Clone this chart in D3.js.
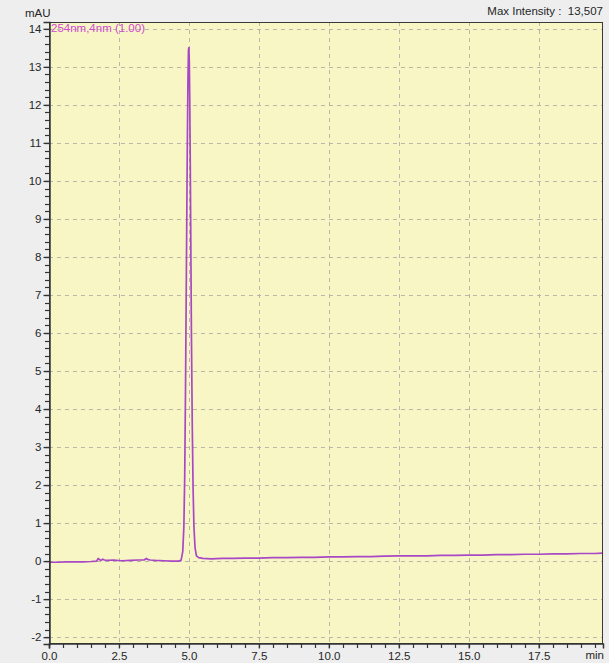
<!DOCTYPE html>
<html>
<head>
<meta charset="utf-8">
<script src="https://cdn.jsdelivr.net/npm/d3@7"></script>
<style>
  html, body { margin: 0; padding: 0; background: #eeeeee; }
  svg { display: block; font-family: "Liberation Sans", Arial, sans-serif; }
</style>
</head>
<body>
<svg id="chart" width="609" height="663"></svg>
<script>
// Chromatogram trace, 254 nm channel: retention time (min) and absorbance (mAU)
const times = [
  0.00, 0.30, 0.60, 0.90, 1.20, 1.50, 1.70, 1.76, 1.80, 1.86, 1.92, 1.98, 2.10, 2.30, 2.60,
  2.90, 3.20, 3.40, 3.48, 3.54, 3.62, 3.80, 4.10, 4.40, 4.62, 4.72, 4.78, 4.82, 4.85, 4.88,
  4.91, 4.94, 4.965, 4.985, 5.00, 5.015, 5.03, 5.05, 5.07, 5.09, 5.12, 5.15, 5.18, 5.22, 5.27,
  5.35, 5.50, 5.80, 6.20, 6.60, 7.00, 7.50, 8.00, 8.50, 9.00, 9.50, 10.00, 10.50, 11.00, 11.50,
  12.00, 12.50, 13.00, 13.50, 14.00, 14.50, 15.00, 15.50, 16.00, 16.50, 17.00, 17.50, 18.00,
  18.50, 19.00, 19.50, 19.80
];
const absorbance = [
  -0.03, -0.03, -0.02, -0.02, -0.02, -0.01, 0.00, 0.07, 0.04, 0.02, 0.05, 0.03, 0.02, 0.03, 0.01,
  0.02, 0.03, 0.03, 0.07, 0.04, 0.03, 0.02, 0.01, 0.00, 0.00, 0.02, 0.25, 0.9, 2.2, 4.6,
  7.6, 10.6, 12.6, 13.45, 13.507, 13.1, 12.2, 10.4, 8.2, 6.0, 3.6, 1.9, 0.9, 0.35, 0.14,
  0.09, 0.07, 0.06, 0.07, 0.07, 0.08, 0.08, 0.09, 0.09, 0.10, 0.10, 0.11, 0.11, 0.12, 0.12,
  0.13, 0.14, 0.14, 0.14, 0.15, 0.15, 0.16, 0.16, 0.17, 0.17, 0.18, 0.18, 0.19,
  0.19, 0.20, 0.20, 0.21
];
const xTickLabels = ["0.0", "2.5", "5.0", "7.5", "10.0", "12.5", "15.0", "17.5"];
const yTickLabels = ["-2", "-1", "0", "1", "2", "3", "4", "5", "6", "7", "8", "9", "10", "11", "12", "13", "14"];
const channelLabel = "254nm,4nm (1.00)";
const maxIntensityLabel = "Max Intensity :  13,507";

const svg = d3.select("#chart");
const plot = { left: 49, right: 603, top: 22, bottom: 644 };
const textColor = "#262626";

const x = d3.scaleLinear().domain([0, 19.8]).range([plot.left, plot.right]);
const y = d3.scaleLinear().domain([-2.18, 14.18]).range([plot.bottom, plot.top]);

const xMajor = xTickLabels.map(Number);
const yMajor = yTickLabels.map(Number);
const xMinor = d3.range(0, 19.8 + 1e-9, 0.5);
const yMinor = d3.range(-2.0, 14.0 + 1e-9, 0.2);

// plot background
svg.append("rect")
  .attr("x", plot.left).attr("y", plot.top)
  .attr("width", plot.right - plot.left).attr("height", plot.bottom - plot.top)
  .attr("fill", "#f9f6c6");

// dashed grid
const grid = svg.append("g").attr("stroke", "#b8b8a8").attr("stroke-dasharray", "4,4").attr("stroke-width", 1);
grid.selectAll("line.h").data(yMajor).join("line")
  .attr("x1", plot.left).attr("x2", plot.right)
  .attr("y1", d => Math.round(y(d)) + 0.5).attr("y2", d => Math.round(y(d)) + 0.5);
grid.selectAll("line.v").data(xMajor.filter(d => d > 0)).join("line")
  .attr("y1", plot.top).attr("y2", plot.bottom)
  .attr("x1", d => Math.round(x(d)) + 0.5).attr("x2", d => Math.round(x(d)) + 0.5);

// trace
const line = d3.line().x((d, i) => x(times[i])).y(d => y(d));
svg.append("path")
  .datum(absorbance)
  .attr("d", line)
  .attr("fill", "none")
  .attr("stroke", "#a948c4")
  .attr("stroke-width", 1.7)
  .attr("stroke-linejoin", "round");

// frame
svg.append("rect")
  .attr("x", plot.left + 0.5).attr("y", plot.top + 0.5)
  .attr("width", plot.right - plot.left - 1).attr("height", plot.bottom - plot.top - 1)
  .attr("fill", "none").attr("stroke", "#3a3a3a").attr("stroke-width", 1);

// y axis: major ticks with labels, minor ticks every 0.2
const yAxis = d3.axisLeft(y).tickValues(yMajor).tickSize(6).tickPadding(2)
  .tickFormat((d, i) => yTickLabels[i]);
const gy = svg.append("g").attr("transform", `translate(${plot.left + 0.5},0)`).call(yAxis);
gy.select(".domain").attr("stroke", "#333").attr("stroke-width", 1.5);
gy.selectAll(".tick line").attr("stroke", "#333").attr("stroke-width", 1.3);
gy.selectAll(".tick text").attr("font-size", 11.5).attr("fill", textColor);
svg.append("g").selectAll("line").data(yMinor).join("line")
  .attr("x1", plot.left - 4).attr("x2", plot.left)
  .attr("y1", d => Math.round(y(d)) + 0.5).attr("y2", d => Math.round(y(d)) + 0.5)
  .attr("stroke", "#333").attr("stroke-width", 1.2);

// x axis: major ticks with labels, minor ticks every 0.5 min
const xAxis = d3.axisBottom(x).tickValues(xMajor).tickSize(5).tickPadding(3)
  .tickFormat((d, i) => xTickLabels[i]);
const gx = svg.append("g").attr("transform", `translate(0,${plot.bottom - 0.5})`).call(xAxis);
gx.select(".domain").attr("stroke", "#333").attr("stroke-width", 1.5);
gx.selectAll(".tick line").attr("stroke", "#333").attr("stroke-width", 1.2);
gx.selectAll(".tick text").attr("font-size", 11.5).attr("fill", textColor);
svg.append("g").selectAll("line").data(xMinor).join("line")
  .attr("x1", d => Math.round(x(d)) + 0.5).attr("x2", d => Math.round(x(d)) + 0.5)
  .attr("y1", plot.bottom).attr("y2", plot.bottom + 4)
  .attr("stroke", "#333").attr("stroke-width", 1.2);

// axis units and headers
svg.append("text").attr("x", 25).attr("y", 17).attr("font-size", 11.5).attr("fill", textColor).text("mAU");
svg.append("text").attr("x", 604).attr("y", 659).attr("text-anchor", "end")
  .attr("font-size", 11.5).attr("fill", textColor).text("min");
svg.append("text").attr("x", 603).attr("y", 15).attr("text-anchor", "end")
  .attr("font-size", 11.5).attr("fill", textColor).attr("xml:space", "preserve").text(maxIntensityLabel);
svg.append("text").attr("x", plot.left + 2).attr("y", 32).attr("font-size", 11.5)
  .attr("fill", "#d048d0").text(channelLabel);
</script>
</body>
</html>
